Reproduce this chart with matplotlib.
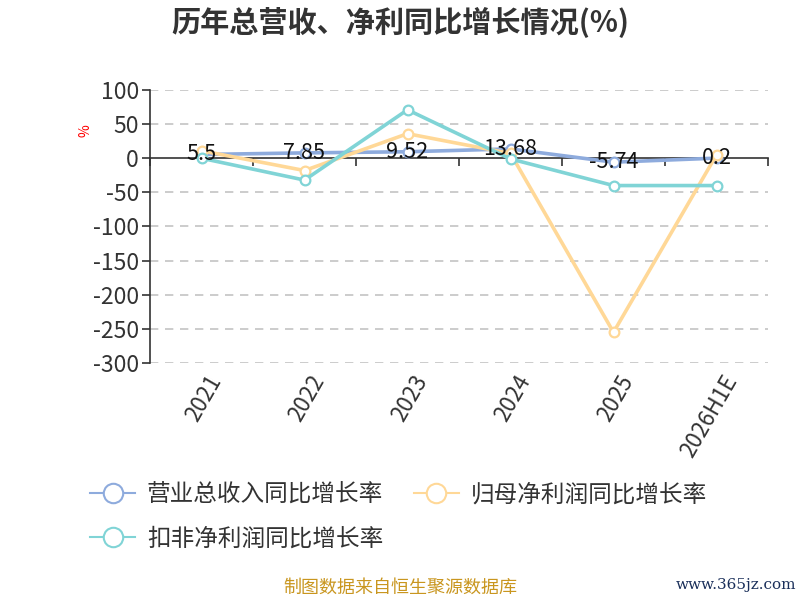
import matplotlib
matplotlib.use("Agg")
import matplotlib.pyplot as plt
import matplotlib.transforms as mtransforms
import numpy as np

plt.rcParams['font.family'] = ['Noto Sans CJK SC', 'DejaVu Sans']
plt.rcParams['axes.unicode_minus'] = False

# data
years = ['2021', '2022', '2023', '2024', '2025', '2026H1E']
revenue_growth = [5.5, 7.85, 9.52, 13.68, -5.74, 0.2]
parent_profit_growth = [11, -18, 36, 7, -255, 5]
deducted_profit_growth = [0, -32, 71, -1, -40, -40]
series_names = ['营业总收入同比增长率', '归母净利润同比增长率', '扣非净利润同比增长率']
series_colors = ['#8eabdd', '#ffd897', '#80d4d6']

fig = plt.figure(figsize=(8, 6), dpi=100)
ax = fig.add_axes([0.1875, 0.395, 0.7725, 0.455])

x = np.arange(len(years))
handles = []
for vals, name, col in zip([revenue_growth, parent_profit_growth, deducted_profit_growth],
                           series_names, series_colors):
    h, = ax.plot(x, vals, color=col, lw=2.6, marker='o', markersize=7,
                 markerfacecolor='white', markeredgecolor=col, markeredgewidth=1.6,
                 label=name, zorder=3)
    handles.append(h)

# value labels for revenue growth, centred on the points
for xi, v in zip(x, revenue_growth):
    ax.text(xi, v, f'{v:g}', ha='center', va='center', fontsize=15.5, color='#111111', zorder=5)

ax.set_xlim(-0.5, len(years) - 0.5)
ax.set_ylim(-300, 100)
ax.set_yticks(np.arange(-300, 101, 50))
ax.tick_params(axis='y', labelsize=16.5, colors='#333333', length=6, width=1.2, pad=2)

for s in ['top', 'right']:
    ax.spines[s].set_visible(False)
ax.spines['left'].set_color('#333333')
ax.spines['left'].set_linewidth(1.2)
ax.spines['bottom'].set_position(('data', 0))
ax.spines['bottom'].set_color('#333333')
ax.spines['bottom'].set_linewidth(1.2)

# ticks between categories on the zero line, labels at the bottom
ax.set_xticks(np.arange(-0.5, len(years), 1.0))
ax.set_xticklabels([])
ax.tick_params(axis='x', direction='out', length=6, width=1.2, colors='#333333')
trans = mtransforms.blended_transform_factory(ax.transData, ax.transAxes)
for xi, lab in zip(x, years):
    ax.text(xi + 0.05, -0.03, lab, transform=trans, rotation=60, ha='right', va='top',
            rotation_mode='anchor', fontsize=16, color='#333333')

for yv in [100, 50, -50, -100, -150, -200, -250, -300]:
    ax.axhline(yv, color='#c4c4c4', lw=1.2, ls=(0, (5, 4)), zorder=0)

ax.text(-0.105, 0.85, '%', transform=ax.transAxes, rotation=90, color='red',
        fontsize=10, ha='center', va='center')

fig.text(0.5, 0.962, '历年总营收、净利同比增长情况(%)', ha='center', va='center',
         fontsize=21, fontweight='bold', color='#333333')

# column-major fill: blue and teal in first column, orange in second
order = [0, 2, 1]
leg = fig.legend(handles=[handles[i] for i in order], loc='upper left',
                 bbox_to_anchor=(0.101, 0.21), ncol=2, frameon=False, fontsize=17,
                 markerscale=2.0, handlelength=1.9, handletextpad=0.5, columnspacing=1.3,
                 labelspacing=0.9, borderaxespad=0)
for t in leg.get_texts():
    t.set_color('#333333')
for lh in leg.legend_handles:
    lh.set_linewidth(1.5)
    lh.set_markeredgewidth(1.5)

fig.text(0.5, 0.02, '制图数据来自恒生聚源数据库', ha='center', va='center',
         fontsize=13, color='#c9961f')
fig.text(0.995, 0.025, 'www.365jz.com', ha='right', va='center', fontsize=11,
         color='#1a2f5a', family=['DejaVu Serif'])

fig.savefig('out.png', dpi=100)
